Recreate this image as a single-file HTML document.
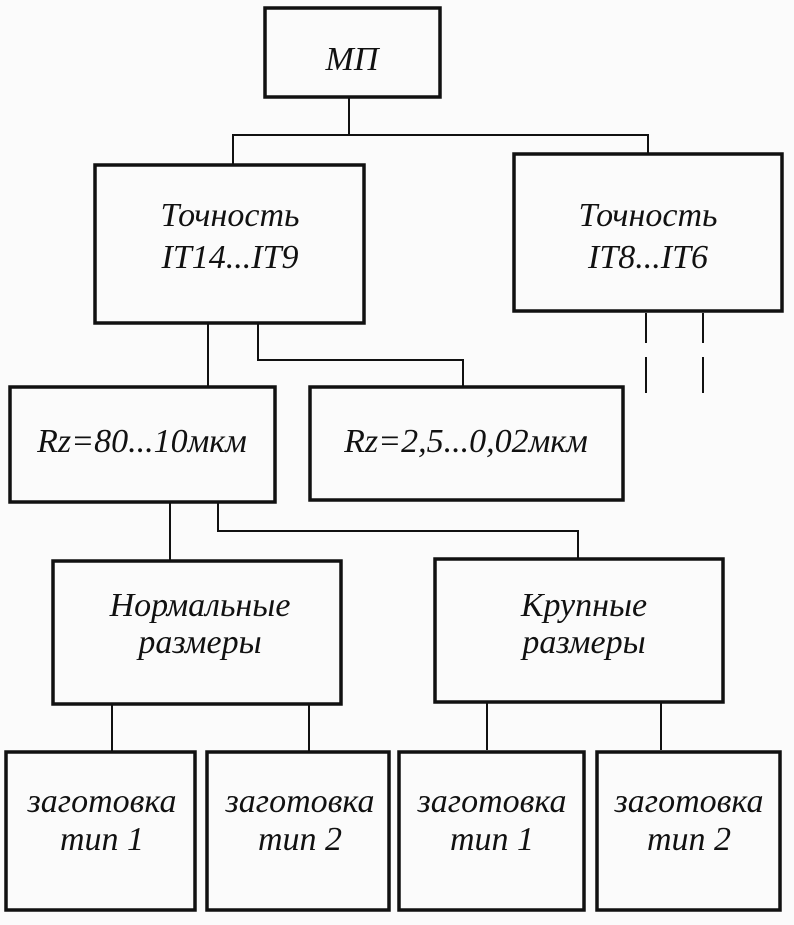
<!DOCTYPE html>
<html><head><meta charset="utf-8"><style>html,body{margin:0;padding:0;background:#fbfbfb}</style></head><body>
<svg width="794" height="920" viewBox="0 0 794 920" xmlns="http://www.w3.org/2000/svg" font-family="Liberation Serif, DejaVu Serif, serif" font-style="italic" font-size="34" fill="#111">
<rect width="794" height="920" fill="#fbfbfb"/>
<g fill="none" stroke="#111" stroke-width="3.5">
<rect x="265" y="8" width="175" height="89"/>
<rect x="95" y="165" width="269" height="158"/>
<rect x="514" y="154" width="268" height="157"/>
<rect x="10" y="387" width="265" height="115"/>
<rect x="310" y="387" width="313" height="113"/>
<rect x="53" y="561" width="288" height="143"/>
<rect x="435" y="559" width="288" height="143"/>
<rect x="6" y="752" width="189" height="158"/>
<rect x="207" y="752" width="182" height="158"/>
<rect x="399" y="752" width="185" height="158"/>
<rect x="597" y="752" width="183" height="158"/>
</g>
<g fill="none" stroke="#111" stroke-width="2">
<path d="M349 97V135M233 165V135H648V154"/>
<path d="M208 323V387M258 323V360H463V387"/>
<path d="M646 313V343M646 357V393M703 313V343M703 357V393"/>
<path d="M170 502V561M218 502V531H578V559"/>
<path d="M112 704V752M309 704V752M487 702V750M661 702V750"/>
</g>
<g text-anchor="middle">
<text x="352" y="70">МП</text>
<text x="230" y="226">Точность</text>
<text x="230" y="268">IT14...IT9</text>
<text x="648" y="226">Точность</text>
<text x="648" y="268">IT8...IT6</text>
<text x="142" y="452">Rz=80...10мкм</text>
<text x="466" y="452">Rz=2,5...0,02мкм</text>
<text x="200" y="616">Нормальные</text>
<text x="200" y="653">размеры</text>
<text x="584" y="616">Крупные</text>
<text x="584" y="653">размеры</text>
<text x="102" y="812">заготовка</text>
<text x="102" y="850">тип 1</text>
<text x="300" y="812">заготовка</text>
<text x="300" y="850">тип 2</text>
<text x="492" y="812">заготовка</text>
<text x="492" y="850">тип 1</text>
<text x="689" y="812">заготовка</text>
<text x="689" y="850">тип 2</text>
</g>
</svg>
</body></html>
